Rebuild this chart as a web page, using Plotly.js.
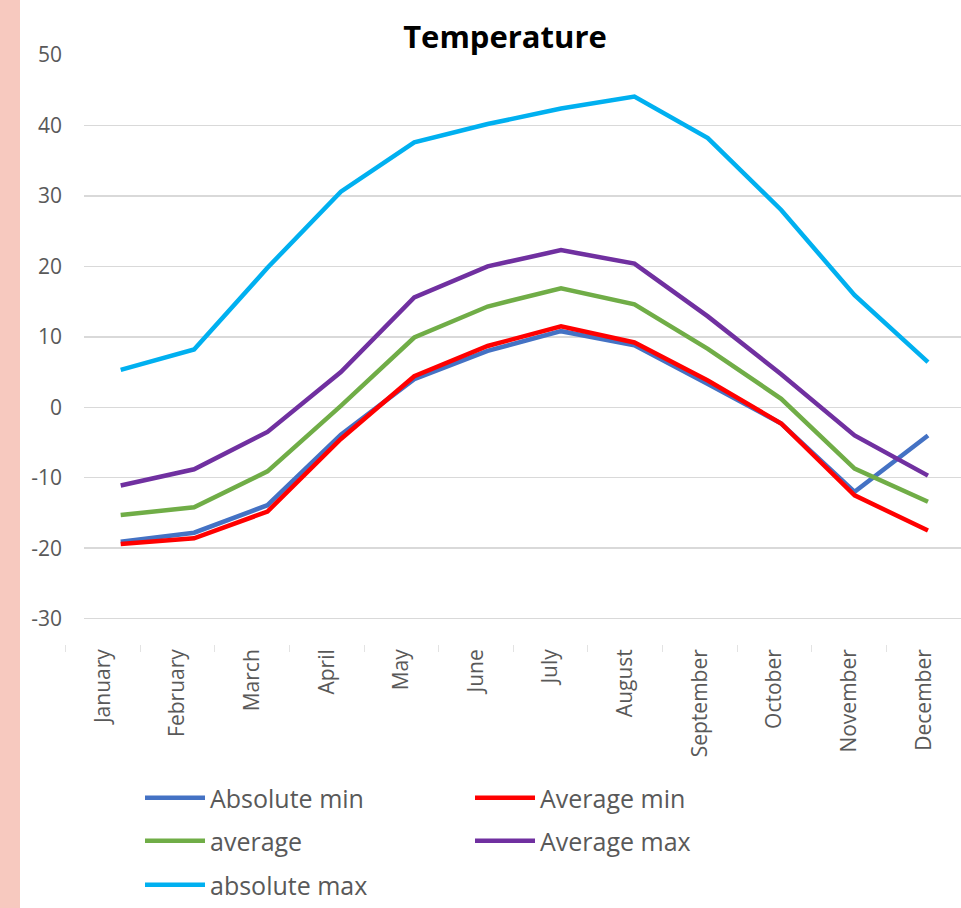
<!DOCTYPE html>
<html>
<head>
<meta charset="utf-8">
<script src="https://cdn.plot.ly/plotly-3.0.1.min.js"></script>
<style>
  html, body { margin: 0; padding: 0; background: #ffffff; }
  #strip { position: absolute; left: 0; top: 0; width: 20px; height: 908px; background: #F7C9BF; z-index: 5; }
  #chart { position: absolute; left: 0; top: 0; width: 961px; height: 908px; }
</style>
</head>
<body>
<div id="chart"></div>
<div id="strip"></div>
<script>
const months = ["January","February","March","April","May","June","July","August","September","October","November","December"];
const absMin  = [-19.1, -17.8, -13.9, -3.9, 4.0, 8.0, 10.8, 8.8, 3.3, -2.3, -12.0, -4.0];
const avgMin  = [-19.4, -18.6, -14.8, -4.5, 4.4, 8.7, 11.5, 9.2, 3.8, -2.3, -12.5, -17.5];
const average = [-15.3, -14.2, -9.1, 0.2, 9.9, 14.3, 16.9, 14.6, 8.3, 1.2, -8.7, -13.4];
const avgMax  = [-11.1, -8.8, -3.5, 5.0, 15.6, 20.0, 22.3, 20.4, 12.9, 4.7, -4.0, -9.7];
const absMax  = [5.3, 8.2, 19.8, 30.6, 37.6, 40.2, 42.4, 44.1, 38.2, 28.0, 15.9, 6.4];
const seriesNames = ["Absolute min", "Average min", "average", "Average max", "absolute max"];
const yTicks = [-30, -20, -10, 0, 10, 20, 30, 40, 50];
const yTickText = ["-30", "-20", "-10", "0", "10", "20", "30", "40", "50"];

const W = 961, H = 908, ML = 60, MT = 55, MB = 263;
const PW = W - ML, PH = H - MT - MB;
const px2x = p => (p - ML) / PW;
const px2y = p => (H - MB - p) / PH;

const colors = ["#4472C4", "#FF0000", "#70AD47", "#7030A0", "#00B0F0"];
const values = [absMin, avgMin, average, avgMax, absMax];
const legendIds = ["legend", "legend2", "legend3", "legend4", "legend5"];

const traces = values.map((v, i) => ({
  type: "scatter", mode: "lines", name: seriesNames[i],
  x: months, y: v, xaxis: "x", yaxis: "y",
  line: { color: colors[i], width: 4.5 },
  legend: legendIds[i], hoverinfo: "x+y+name"
}));
// helper trace carrying the month label axis
traces.push({
  type: "scatter", mode: "lines", x: months, y: average, xaxis: "x2", yaxis: "y2",
  line: { width: 0, color: "rgba(0,0,0,0)" }, opacity: 0, showlegend: false, hoverinfo: "skip"
});

const legendFont = { family: "Open Sans, sans-serif", size: 25, color: "#595959" };
const legendPos = [[140, 798], [470, 798], [140, 841], [470, 841], [140, 886]];
const layout = {
  width: W, height: H,
  margin: { l: ML, r: 0, t: MT, b: MB, pad: 0 },
  paper_bgcolor: "#ffffff", plot_bgcolor: "rgba(0,0,0,0)",
  title: {
    text: "<b>Temperature</b>", xref: "container", yref: "container",
    x: 505 / W, xanchor: "center", y: 1 - 37 / H, yanchor: "middle",
    font: { family: "Open Sans, sans-serif", size: 31, color: "#000000" }
  },
  showlegend: true,
  xaxis: {
    type: "category", domain: [px2x(84), 1], range: [-0.5, 11.45], anchor: "y",
    showticklabels: false, ticks: "", showgrid: false, showline: false, zeroline: false
  },
  xaxis2: {
    type: "category", domain: [px2x(65.7), 1], range: [-0.5, 11.5], anchor: "y2",
    tickangle: -90, tickson: "boundaries", ticks: "outside", ticklen: 7, tickcolor: "#E3E3E3",
    tickfont: { family: "Open Sans, sans-serif", size: 21, color: "#595959" },
    showgrid: false, showline: false, zeroline: false
  },
  yaxis: {
    range: [-33.6, 50], tickmode: "array", tickvals: yTicks, ticktext: yTickText, anchor: "x",
    showgrid: true, gridcolor: "#D9D9D9", gridwidth: 1.5, zeroline: false, showline: false,
    ticks: "", ticklabelstandoff: 21,
    tickfont: { family: "Open Sans, sans-serif", size: 21, color: "#595959" }
  },
  yaxis2: { range: [-33.6, 50], anchor: "x2", visible: false, domain: [0, 1] }
};
legendIds.forEach((id, i) => {
  layout[id] = {
    x: px2x(legendPos[i][0]), xanchor: "left", y: px2y(legendPos[i][1]), yanchor: "middle",
    orientation: "h", font: legendFont, bgcolor: "rgba(0,0,0,0)", borderwidth: 0, itemwidth: 60
  };
});
Plotly.newPlot("chart", traces, layout, { displayModeBar: false, staticPlot: true });
</script>
</body>
</html>
